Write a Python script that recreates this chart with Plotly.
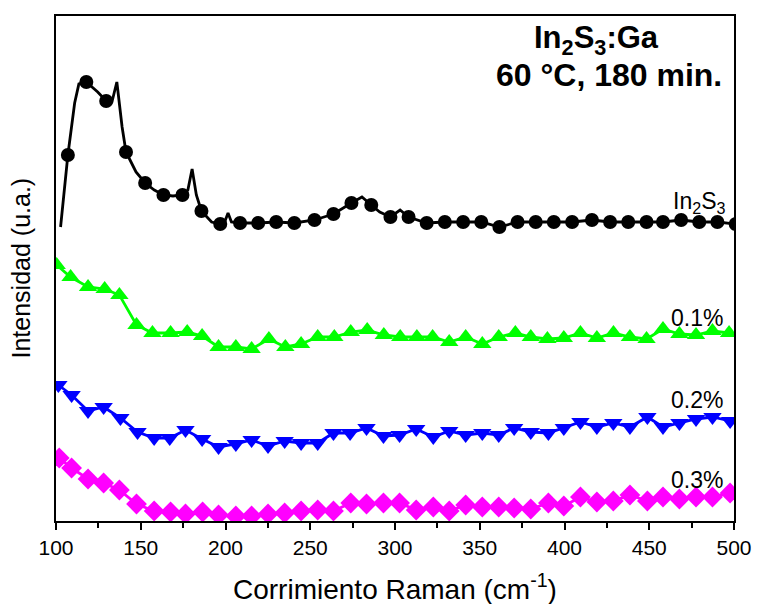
import plotly.graph_objects as go

# Raman spectra of In2S3:Ga films (60 °C, 180 min), vertically offset traces

# In2S3 – continuous spectrum vertices
in2s3_line_x = [102.7, 107, 111, 113.5, 117.9, 124.6, 129.6, 133, 135.9, 139, 141.3, 147.2,
                152.6, 158, 163.4, 169, 174.6, 177.8, 180.3, 182.8, 185.8, 191.8, 196.9,
                199.5, 201.5, 203.5, 208.6, 219.3, 229.9, 240.6, 252.5, 263.7, 274.3, 280.5,
                286, 291, 297.3, 303, 308, 318.7, 329.4, 340.2, 350.9, 361.6, 372.3, 383,
                393.7, 404.5, 416.2, 426.9, 437.6, 448.4, 458.1, 468.8, 479.5, 490.2, 501]
in2s3_line_y = [293, 365, 417, 436, 438, 428, 419, 418, 438, 393, 368, 348,
                337, 330, 325, 324, 325, 330, 351, 325, 309, 298, 296,
                298, 307, 298, 297, 297, 298, 297, 300, 306, 317, 323,
                315, 308, 303, 310, 303, 297, 298, 298, 298, 293, 298, 298,
                298, 298, 300, 298, 298, 298, 298, 300, 298, 298, 296]

# In2S3 – marker points
in2s3_mark_x = [107, 117.9, 129.6, 141.3, 152.6, 163.4, 174.6, 185.8, 196.9, 208.6, 219.3,
                229.9, 240.6, 252.5, 263.7, 274.3, 286, 297.3, 308, 318.7, 329.4, 340.2,
                350.9, 361.6, 372.3, 383, 393.7, 404.5, 416.2, 426.9, 437.6, 448.4, 458.1,
                468.8, 479.5, 490.2, 501]
in2s3_mark_y = [365, 438, 419, 368, 337, 325, 325, 309, 296, 297, 297,
                298, 297, 300, 306, 317, 315, 303, 303, 297, 298, 298,
                298, 293, 298, 298, 298, 298, 300, 298, 298, 298, 298,
                300, 298, 298, 296]

# 0.1 % Ga
ga01_x = [100.4, 108.6, 118.9, 128.7, 137.4, 147.5, 156.9, 167.6, 177.4, 186.2, 195.9,
          206.1, 215.4, 225.6, 235.3, 244.6, 254.4, 264.2, 273.9, 283.6, 293.4, 303.1,
          312.9, 322.2, 332, 341.7, 351.5, 361.2, 371, 380.1, 389.9, 399.6, 409.4,
          419.1, 428.9, 438.6, 448.4, 458.1, 467.8, 477.6, 487.3, 497.1]
ga01_y = [255, 243, 233, 231, 225, 195, 187, 187, 188, 184, 173,
          173, 171, 181, 173, 176, 183, 183, 188, 190, 185, 183,
          183, 183, 178, 183, 176, 183, 187, 183, 181, 182, 187,
          182, 187, 183, 181, 191, 186, 185, 189, 187]

# 0.2 % Ga
ga02_x = [101.4, 109.2, 118.9, 128.1, 138, 148.1, 157.9, 167.1, 176.4, 186.2, 195.9,
          206.1, 215.4, 225.1, 234.9, 244.6, 254.4, 263.7, 273.5, 283.2, 293.2, 302.7,
          312.5, 322.6, 332, 341.7, 351.5, 361.2, 370.3, 380.1, 390.5, 399.6, 409.4,
          419.1, 428.8, 438.6, 448.9, 458.1, 467.8, 477.6, 487.3, 497.7]
ga02_y = [135, 125, 109, 113, 102, 88, 82, 82, 90, 81, 73,
          76, 80, 74, 79, 77, 77, 87, 87, 92, 84, 85,
          91, 83, 89, 85, 87, 85, 92, 88, 87, 92, 98,
          93, 97, 93, 103, 93, 97, 101, 103, 99]

# 0.3 % Ga
ga03_x = [101.9, 109.2, 118.9, 128.1, 137.4, 147.5, 157.9, 167.6, 176.4, 186.5, 195.9,
          206.1, 215.4, 225.1, 234.9, 244.6, 254.4, 263.7, 273.9, 283.2, 293.2, 302.7,
          312.5, 322.6, 332, 341.7, 351.5, 361.2, 370.3, 380.1, 390.5, 399.6, 409.4,
          419.1, 428.8, 438.6, 448.9, 458.1, 467.8, 477.6, 487.3, 497.7]
ga03_y = [62, 52, 41, 37, 30, 16, 9, 8, 6, 8, 5,
          4, 4, 6, 7, 9, 10, 9, 17, 16, 17, 17,
          10, 13, 9, 15, 13, 13, 12, 11, 17, 14, 23,
          18, 19, 25, 19, 23, 21, 23, 23, 27]

x_ticks = [100, 150, 200, 250, 300, 350, 400, 450, 500]

FONT = "Arial, Liberation Sans, sans-serif"
BLACK = "#000000"
GREEN = "#00FF00"
BLUE = "#0000FF"
MAGENTA = "#FF00FF"

fig = go.Figure()

fig.add_trace(go.Scatter(x=in2s3_line_x, y=in2s3_line_y, mode="lines",
                         line=dict(color=BLACK, width=2.8), hoverinfo="skip"))
fig.add_trace(go.Scatter(x=in2s3_mark_x, y=in2s3_mark_y, mode="markers",
                         marker=dict(symbol="circle", size=14, color=BLACK)))

for xs, ys, col, sym in [(ga01_x, ga01_y, GREEN, "triangle-up"),
                         (ga02_x, ga02_y, BLUE, "triangle-down"),
                         (ga03_x, ga03_y, MAGENTA, "diamond")]:
    fig.add_trace(go.Scatter(x=xs, y=ys, mode="lines+markers",
                             line=dict(color=col, width=2.8),
                             marker=dict(symbol=sym, size=16, color=col,
                                         line=dict(width=0))))

# Trace labels at the right end of each spectrum
labels = [("In<sub>2</sub>S<sub>3</sub>", 496, 318),
          ("0.1%", 494.5, 202),
          ("0.2%", 494.5, 120),
          ("0.3%", 494.5, 40)]
annotations = []
for txt, lx, ly in labels:
    annotations.append(dict(x=lx, y=ly, xref="x", yref="y", text=txt, showarrow=False,
                            xanchor="right", yanchor="middle",
                            font=dict(family=FONT, size=23, color=BLACK)))

# Sample description (two bold lines, top right)
annotations.append(dict(x=0.797, y=1.0, xref="paper", yref="paper",
                        text="<b>In<sub>2</sub>S<sub>3</sub>:Ga</b>", showarrow=False,
                        xanchor="center", yanchor="middle", yshift=-24,
                        height=32, valign="middle",
                        font=dict(family=FONT, size=31, color=BLACK)))
annotations.append(dict(x=0.816, y=1.0, xref="paper", yref="paper",
                        text="<b>60 °C, 180 min.</b>", showarrow=False,
                        xanchor="center", yanchor="middle", yshift=-59,
                        height=32, valign="middle",
                        font=dict(family=FONT, size=32, color=BLACK)))

# Axis titles
annotations.append(dict(x=0.5, y=0, xref="paper", yref="paper",
                        text="Corrimiento Raman (cm<sup>-1</sup>)", showarrow=False,
                        xanchor="center", yanchor="middle", yshift=-66,
                        font=dict(family=FONT, size=28, color=BLACK)))
annotations.append(dict(x=0, y=0.5, xref="paper", yref="paper",
                        text="Intensidad (u.a.)", showarrow=False, textangle=-90,
                        xanchor="center", yanchor="middle", xshift=-36,
                        font=dict(family=FONT, size=25, color=BLACK)))

fig.update_layout(
    width=764, height=604,
    margin=dict(l=56, r=23, t=16, b=83),
    paper_bgcolor="white", plot_bgcolor="white",
    showlegend=False,
    annotations=annotations,
    xaxis=dict(range=[100, 500], tickvals=x_ticks, ticks="outside", ticklen=7,
               tickwidth=1.5, tickcolor=BLACK,
               minor=dict(dtick=25, ticks="outside", ticklen=5, tickwidth=1.5,
                          tickcolor=BLACK, showgrid=False),
               showline=True, linecolor=BLACK, linewidth=1.5, mirror=True,
               showgrid=False, zeroline=False,
               tickfont=dict(family=FONT, size=21, color=BLACK)),
    yaxis=dict(range=[-1, 504], showticklabels=False, ticks="",
               showline=True, linecolor=BLACK, linewidth=1.5, mirror=True,
               showgrid=False, zeroline=False),
)

fig.write_html("out.html")
